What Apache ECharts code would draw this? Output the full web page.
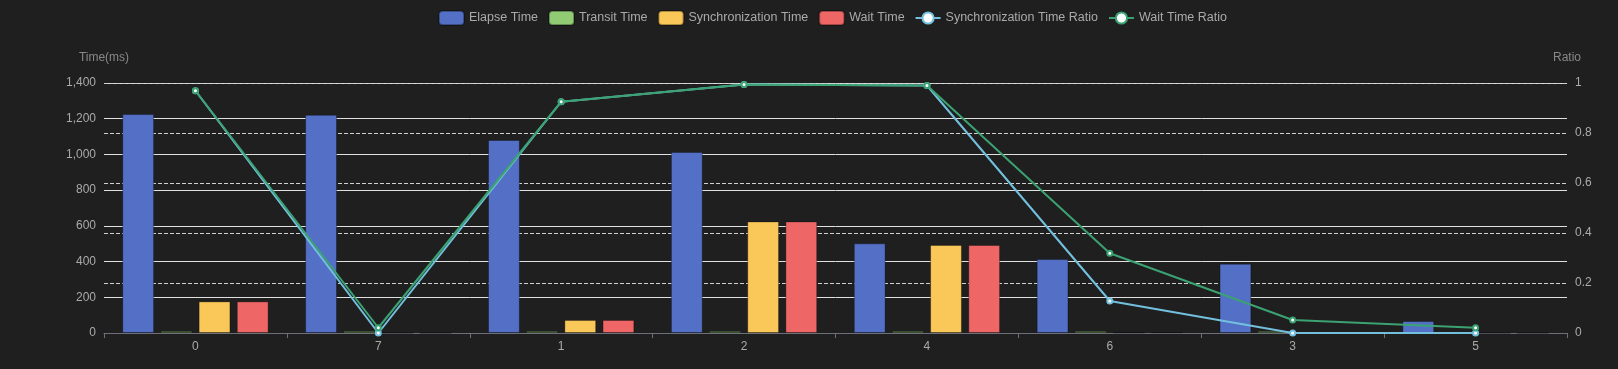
<!DOCTYPE html>
<html>
<head>
<meta charset="utf-8">
<script src="https://cdn.jsdelivr.net/npm/echarts@6/dist/echarts.min.js"></script>
<style>html,body{margin:0;padding:0;background:#1f1f1f;}#c{width:1618px;height:369px;}</style>
</head>
<body>
<div id="c"></div>
<script>
const categories = ['0', '7', '1', '2', '4', '6', '3', '5'];
const elapseTime = [1226, 1222, 1081, 1014, 502, 414, 388, 67];
const transitTime = [11, 11, 11, 11, 11, 11, 11, 3];
const syncTime = [177, 0, 73, 625, 493, 3, 0, 0];
const waitTime = [177, 0, 73, 625, 493, 4, 0, 0];
const syncRatio = [0.969, 0, 0.925, 0.994, 0.99, 0.128, 0, 0];
const waitRatio = [0.969, 0.021, 0.925, 0.994, 0.99, 0.319, 0.052, 0.021];
const leftTicks = {min: 0, max: 1400, interval: 200};
const rightTicks = {min: 0, max: 1, interval: 0.2};

const chart = echarts.init(document.getElementById('c'), null, {renderer: 'canvas'});
const barStyle = {borderColor: 'rgba(0,0,0,0.3)', borderWidth: 1};
const font = 'sans-serif';
chart.setOption({
  backgroundColor: '#1f1f1f',
  color: ['#5470c6', '#91cc75', '#fac858', '#ee6666', '#73c0de', '#3ba272'],
  textStyle: {fontFamily: font},
  legend: {
    top: 5,
    left: 433,
    itemWidth: 25, itemHeight: 14, itemGap: 10,
    textStyle: {color: '#aaaaaa', fontSize: 12.5, fontFamily: font},
    data: ['Elapse Time', 'Transit Time', 'Synchronization Time', 'Wait Time', 'Synchronization Time Ratio', 'Wait Time Ratio']
  },
  grid: {left: 104, right: 51, top: 83, bottom: 36, containLabel: false},
  xAxis: {
    type: 'category',
    data: categories,
    axisLine: {lineStyle: {color: '#6e7079'}},
    axisTick: {show: true, lineStyle: {color: '#6e7079'}},
    axisLabel: {color: '#aaaaaa', fontSize: 12, margin: 8}
  },
  yAxis: [
    {
      type: 'value', name: 'Time(ms)', position: 'left',
      min: leftTicks.min, max: leftTicks.max, interval: leftTicks.interval,
      nameTextStyle: {color: '#888888', fontSize: 12, align: 'center', padding: [0, 0, 4, 0]},
      axisLine: {show: false},
      axisLabel: {color: '#aaaaaa', fontSize: 12, margin: 8},
      splitLine: {lineStyle: {color: '#e0e0e0', type: 'solid'}}
    },
    {
      type: 'value', name: 'Ratio', position: 'right',
      min: rightTicks.min, max: rightTicks.max, interval: rightTicks.interval,
      nameTextStyle: {color: '#888888', fontSize: 12, align: 'center', padding: [0, 0, 4, 0]},
      axisLine: {show: false},
      axisLabel: {color: '#aaaaaa', fontSize: 12, margin: 8},
      splitLine: {lineStyle: {color: '#d0d0d0', type: 'dashed'}}
    }
  ],
  series: [
    {name: 'Elapse Time', type: 'bar', yAxisIndex: 0, data: elapseTime, itemStyle: barStyle, barGap: '20%', barCategoryGap: '20%'},
    {name: 'Transit Time', type: 'bar', yAxisIndex: 0, data: transitTime, itemStyle: barStyle},
    {name: 'Synchronization Time', type: 'bar', yAxisIndex: 0, data: syncTime, itemStyle: barStyle},
    {name: 'Wait Time', type: 'bar', yAxisIndex: 0, data: waitTime, itemStyle: barStyle},
    {name: 'Synchronization Time Ratio', type: 'line', yAxisIndex: 1, data: syncRatio, symbol: 'emptyCircle', symbolSize: 5, lineStyle: {width: 2}},
    {name: 'Wait Time Ratio', type: 'line', yAxisIndex: 1, data: waitRatio, symbol: 'emptyCircle', symbolSize: 5, lineStyle: {width: 2}}
  ]
});
</script>
</body>
</html>
